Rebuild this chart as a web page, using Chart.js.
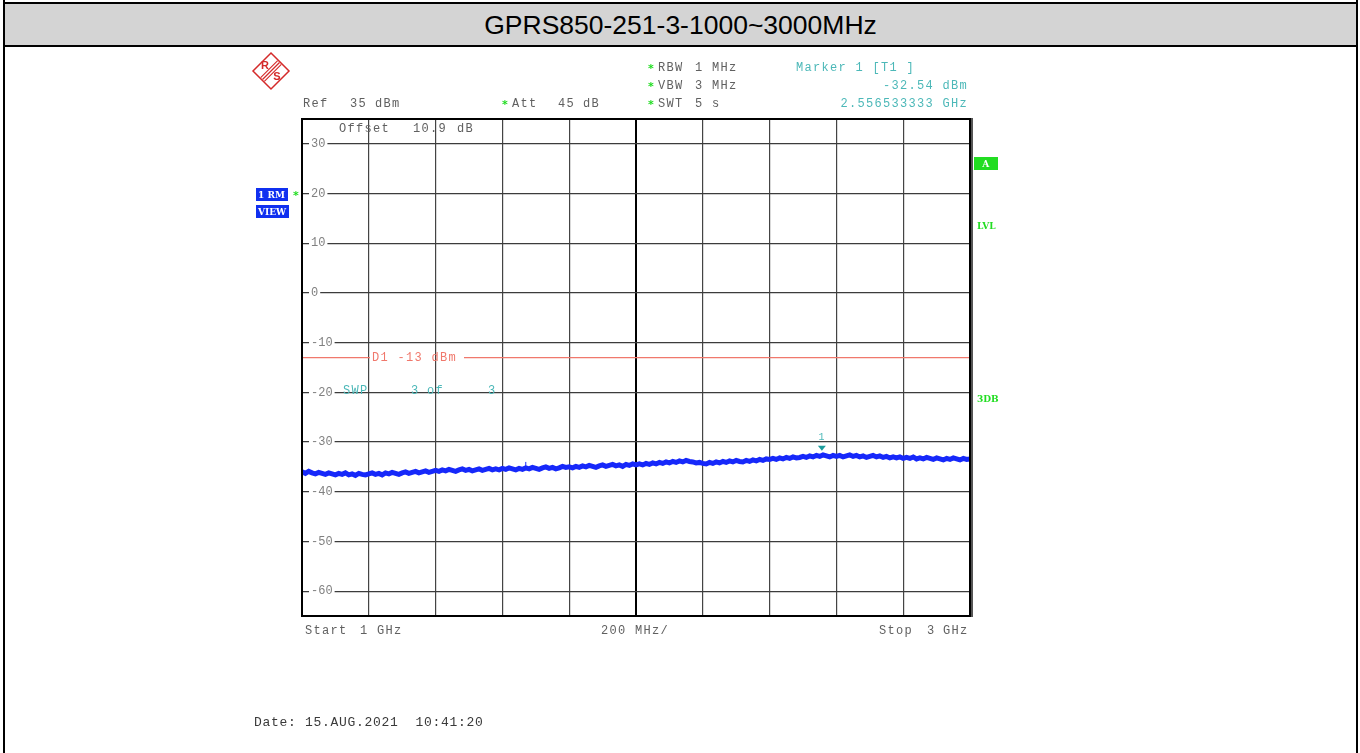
<!DOCTYPE html>
<html>
<head>
<meta charset="utf-8">
<title>GPRS850-251-3-1000~3000MHz</title>
<script src="https://cdn.jsdelivr.net/npm/chart.js@4.4.0/dist/chart.umd.min.js"></script>
<style>
  body { margin: 0; background: #fff; }
  #page { position: relative; width: 1360px; height: 753px; overflow: hidden; }
  #frame { position: absolute; left: 3px; top: 0; width: 1351px; height: 760px;
           border-left: 2px solid #000; border-right: 2px solid #000; }
  #title { position: absolute; left: 3px; top: 2px; width: 1351px; height: 41px;
           background: #d4d4d4; border: 2px solid #000;
           font: 26.5px "Liberation Sans", Arial, sans-serif; color: #000;
           text-align: center; line-height: 42px; }
  #scope { position: absolute; left: 0; top: 0; }
</style>
</head>
<body>
<div id="page">
  <div id="frame"></div>
  <div id="title">GPRS850-251-3-1000~3000MHz</div>
  <canvas id="scope" width="1360" height="753"></canvas>
</div>
<script>
// Sweep 1 GHz .. 3 GHz, trace 1 (RMS, view) sampled every 10 MHz
const startMHz = 1000;
const stopMHz = 3000;
const stepMHz = 10;
const traceLevels = [
  -36.0, -36.3, -35.9, -36.2, -36.4, -36.1, -36.3, -36.5, -36.2, -36.4,
  -36.6, -36.3, -36.5, -36.2, -36.6, -36.4, -36.7, -36.3, -36.5, -36.6,
  -36.4, -36.2, -36.5, -36.3, -36.6, -36.2, -36.4, -36.1, -36.3, -36.5,
  -36.2, -36.0, -36.3, -36.1, -35.9, -36.2, -36.0, -35.8, -36.1, -35.9,
  -35.7, -35.9, -35.6, -35.8, -35.5, -35.7, -35.9, -35.6, -35.4, -35.7,
  -35.5, -35.8, -35.6, -35.4, -35.7, -35.5, -35.3, -35.6, -35.4, -35.6,
  -35.3, -35.5, -35.2, -35.4, -35.6, -35.3, -35.5, -35.2, -35.4, -35.1,
  -35.3, -35.5, -35.2, -35.0, -35.3, -35.1, -35.4, -35.2, -34.9, -35.1,
  -35.0, -35.2, -34.9, -35.1, -34.8, -35.0, -34.7, -34.9, -35.1, -34.8,
  -34.6, -34.9, -34.7, -34.5, -34.8, -34.6, -34.9, -34.5, -34.7, -34.4,
  -34.6, -34.4, -34.6, -34.3, -34.5, -34.2, -34.4, -34.1, -34.3, -34.0,
  -34.2, -33.9, -34.1, -33.8, -34.0, -33.7, -33.9, -34.0, -34.2, -34.1,
  -34.3, -34.4, -34.1, -34.3, -34.0, -34.2, -33.9, -34.1, -33.8, -34.0,
  -33.7, -33.9, -34.0, -33.7, -33.9, -33.6, -33.8, -33.5, -33.7, -33.4,
  -33.5, -33.3, -33.5, -33.2, -33.4, -33.1, -33.3, -33.0, -33.2, -33.1,
  -32.9, -33.1, -32.8, -33.0, -32.7, -32.9, -32.6, -32.8, -33.0, -32.7,
  -32.9, -32.7, -33.0, -32.8, -32.6, -32.9, -32.7, -33.0, -32.8, -33.1,
  -32.9, -32.7, -33.0, -32.8, -33.1, -32.9, -33.2, -33.0, -33.2, -33.0,
  -33.3, -33.1, -33.3, -33.0, -33.4, -33.2, -33.4, -33.1, -33.3, -33.5,
  -33.2, -33.4, -33.6, -33.3, -33.5, -33.2, -33.4, -33.6, -33.3, -33.5,
  -33.4
];
// short glitch on the trace near 1.67 GHz
const glitchFreq = 1670;
const glitchLevels = [-35.3, -34.0];

const refLevel = 35;
const bottomLevel = -65;
const levelTicks = [30, 20, 10, 0, -10, -20, -30, -40, -50, -60];
const freqTicks = [1000, 1200, 1400, 1600, 1800, 2000, 2200, 2400, 2600, 2800, 3000];

const displayLine = -13;          // D1
const markerFreq = 2556.533333;   // marker 1 [T1]
const markerLevel = -32.54;

const GRAY = '#606060';
const TEAL = '#4cb8b8';
const SALMON = '#f0786c';
const GREEN = '#22dd22';
const BLUE = '#1030f0';

// fixed-pitch text like the analyzer screen font
function mono(ctx, str, x, y, color, opts = {}) {
  const adv = opts.adv || 8.5;
  const size = opts.size || 12;
  ctx.save();
  ctx.font = (opts.bold ? 'bold ' : '') + size + 'px "Liberation Mono", monospace';
  ctx.fillStyle = color;
  ctx.textBaseline = 'middle';
  ctx.textAlign = 'left';
  if (opts.right) x = x - str.length * adv;
  for (let i = 0; i < str.length; i++) {
    ctx.fillText(str[i], x + i * adv, y);
  }
  ctx.restore();
}

function star(ctx, x, y) {
  ctx.save();
  ctx.fillStyle = GREEN;
  ctx.font = 'bold 11px "DejaVu Sans", sans-serif';
  ctx.textAlign = 'center';
  ctx.textBaseline = 'middle';
  ctx.fillText('*', x, y + 1);
  ctx.restore();
}

function logo(ctx, cx, cy) {
  const r = 18;
  ctx.save();
  ctx.strokeStyle = '#d42a2a';
  ctx.fillStyle = '#d42a2a';
  ctx.lineWidth = 1.5;
  ctx.beginPath();
  ctx.moveTo(cx, cy - r);
  ctx.lineTo(cx + r, cy);
  ctx.lineTo(cx, cy + r);
  ctx.lineTo(cx - r, cy);
  ctx.closePath();
  ctx.stroke();
  ctx.lineWidth = 1.2;
  for (const k of [-2.6, 0, 2.6]) {
    const ox = k * 0.707, oy = k * 0.707;
    ctx.beginPath();
    ctx.moveTo(cx - 8.5 + ox, cy + 8.5 + oy);
    ctx.lineTo(cx + 8.5 + ox, cy - 8.5 + oy);
    ctx.stroke();
  }
  ctx.font = 'bold 11px "Liberation Sans", sans-serif';
  ctx.textAlign = 'center';
  ctx.textBaseline = 'middle';
  ctx.fillText('R', cx - 6, cy - 5);
  ctx.fillText('S', cx + 6, cy + 6);
  ctx.restore();
}

function tag(ctx, text, x, y, w, h, bg, fg) {
  ctx.save();
  ctx.fillStyle = bg;
  ctx.fillRect(x, y, w, h);
  ctx.fillStyle = fg;
  ctx.font = 'bold 9px "DejaVu Serif", serif';
  ctx.textAlign = 'left';
  ctx.textBaseline = 'middle';
  ctx.fillText(text, x + 2, y + h / 2 + 1);
  ctx.restore();
}

const screenPlugin = {
  id: 'analyzerScreen',
  afterDraw(chart) {
    const ctx = chart.ctx;
    const a = chart.chartArea;
    const xs = chart.scales.x, ys = chart.scales.y;

    // display line D1 with its label cut into it
    const yd = ys.getPixelForValue(displayLine);
    ctx.save();
    ctx.strokeStyle = SALMON;
    ctx.lineWidth = 1.2;
    ctx.beginPath();
    ctx.moveTo(a.left, yd); ctx.lineTo(370, yd);
    ctx.moveTo(464, yd); ctx.lineTo(a.right, yd);
    ctx.stroke();
    ctx.restore();
    mono(ctx, 'D1 -13 dBm', 372, yd, SALMON);

    // sweep counter
    mono(ctx, 'SWP', 343, 391, TEAL);
    mono(ctx, '3', 411, 391, TEAL);
    mono(ctx, 'of', 427, 391, TEAL);
    mono(ctx, '3', 488, 391, TEAL);

    mono(ctx, 'Offset', 339, 129, GRAY);
    mono(ctx, '10.9', 413, 129, GRAY);
    mono(ctx, 'dB', 457, 129, GRAY);

    // marker 1
    const mx = xs.getPixelForValue(markerFreq);
    const my = ys.getPixelForValue(markerLevel);
    ctx.save();
    ctx.fillStyle = '#1c9c9c';
    ctx.beginPath();
    ctx.moveTo(mx - 4, my - 9);
    ctx.lineTo(mx + 4, my - 9);
    ctx.lineTo(mx, my - 4);
    ctx.closePath();
    ctx.fill();
    ctx.restore();
    mono(ctx, '1', mx - 3.5, my - 17, TEAL, { size: 10 });

    // frame of the diagram
    ctx.save();
    ctx.strokeStyle = '#000';
    ctx.lineWidth = 2;
    ctx.strokeRect(a.left, a.top, a.right - a.left, a.bottom - a.top);
    ctx.strokeStyle = '#555';
    ctx.beginPath();
    ctx.moveTo(a.right + 2, a.top - 1);
    ctx.lineTo(a.right + 2, a.bottom + 1);
    ctx.stroke();
    ctx.restore();

    // header
    logo(ctx, 271, 71);
    mono(ctx, 'Ref', 303, 104, GRAY);
    mono(ctx, '35', 350, 104, GRAY);
    mono(ctx, 'dBm', 375, 104, GRAY);
    star(ctx, 505, 104);
    mono(ctx, 'Att', 512, 104, GRAY);
    mono(ctx, '45', 558, 104, GRAY);
    mono(ctx, 'dB', 583, 104, GRAY);

    star(ctx, 651, 68);
    mono(ctx, 'RBW', 658, 68, GRAY);
    mono(ctx, '1', 695, 68, GRAY);
    mono(ctx, 'MHz', 712, 68, GRAY);
    star(ctx, 651, 86);
    mono(ctx, 'VBW', 658, 86, GRAY);
    mono(ctx, '3', 695, 86, GRAY);
    mono(ctx, 'MHz', 712, 86, GRAY);
    star(ctx, 651, 104);
    mono(ctx, 'SWT', 658, 104, GRAY);
    mono(ctx, '5', 695, 104, GRAY);
    mono(ctx, 's', 712, 104, GRAY);

    mono(ctx, 'Marker 1 [T1 ]', 796, 68, TEAL);
    mono(ctx, markerLevel.toFixed(2) + ' dBm', 968, 86, TEAL, { right: true });
    mono(ctx, (markerFreq / 1000).toFixed(9) + ' GHz', 968, 104, TEAL, { right: true });

    // side annotations
    tag(ctx, '1 RM', 256, 188, 32, 13, BLUE, '#fff');
    tag(ctx, 'VIEW', 256, 205, 33, 13, BLUE, '#fff');
    star(ctx, 296, 195);
    tag(ctx, '  A', 974, 157, 24, 13, GREEN, '#fff');
    ctx.save();
    ctx.fillStyle = GREEN;
    ctx.font = 'bold 9px "DejaVu Serif", serif';
    ctx.textBaseline = 'middle';
    ctx.fillText('LVL', 977, 227);
    ctx.fillText('3DB', 977, 400);
    ctx.restore();

    // footer
    mono(ctx, 'Start', 305, 631, GRAY);
    mono(ctx, '1', 360, 631, GRAY);
    mono(ctx, 'GHz', 377, 631, GRAY);
    mono(ctx, '200 MHz/', 601, 631, GRAY);
    mono(ctx, 'Stop', 879, 631, GRAY);
    mono(ctx, '3', 927, 631, GRAY);
    mono(ctx, 'GHz', 943, 631, GRAY);
    mono(ctx, 'Date: 15.AUG.2021  10:41:20', 254, 723, '#3a3a3a', { size: 13 });
  }
};

const ctx = document.getElementById('scope').getContext('2d');
const scopeChart = new Chart(ctx, {
  type: 'line',
  data: {
    datasets: [{
      label: '1 RM VIEW',
      data: traceLevels.map((v, i) => ({ x: startMHz + i * stepMHz, y: v })),
      borderColor: 'rgb(22, 40, 250)',
      borderWidth: 5,
      pointRadius: 0,
      tension: 0
    }, {
      label: 'glitch',
      data: glitchLevels.map(v => ({ x: glitchFreq, y: v })),
      borderColor: 'rgb(22, 40, 250)',
      borderWidth: 1,
      pointRadius: 0
    }]
  },
  options: {
    responsive: false,
    animation: false,
    layout: { padding: { left: 302, top: 119, right: 390, bottom: 137 } },
    plugins: {
      legend: { display: false },
      tooltip: { enabled: false }
    },
    scales: {
      x: {
        type: 'linear',
        min: startMHz,
        max: stopMHz,
        afterFit: s => { s.height = 0; },
        afterBuildTicks: s => { s.ticks = freqTicks.map(v => ({ value: v })); },
        ticks: { display: false },
        border: { display: false },
        grid: {
          drawTicks: false,
          color: c => c.tick && c.tick.value === 2000 ? '#000' : '#444',
          lineWidth: c => c.tick && c.tick.value === 2000 ? 2 : 1.2
        }
      },
      y: {
        min: bottomLevel,
        max: refLevel,
        afterFit: s => { s.width = 0; },
        afterBuildTicks: s => { s.ticks = levelTicks.map(v => ({ value: v })); },
        border: { display: false },
        grid: { drawTicks: false, color: '#3c3c3c', lineWidth: 1.2 },
        ticks: {
          mirror: true,
          padding: 9,
          color: '#808080',
          font: { family: '"Liberation Mono", monospace', size: 12 },
          showLabelBackdrop: true,
          backdropColor: '#fff',
          backdropPadding: { top: 0, bottom: 0, left: 2, right: 2 }
        }
      }
    }
  },
  plugins: [screenPlugin]
});
</script>
</body>
</html>
